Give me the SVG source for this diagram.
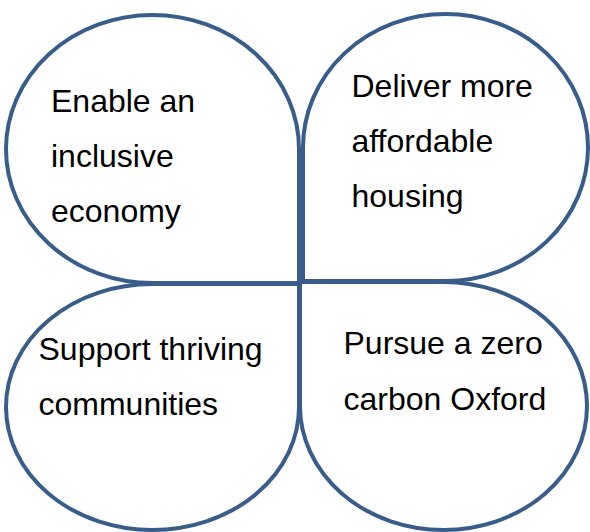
<svg xmlns="http://www.w3.org/2000/svg" width="590" height="532" viewBox="0 0 590 532">
<style>
.leaf{fill:#ffffff;stroke:#385D8A;stroke-width:4;stroke-linejoin:miter}
.t{font-family:"Liberation Sans",Arial,sans-serif;font-size:32px;fill:#000000}
</style>
<rect width="590" height="532" fill="#ffffff"/>
<g id="node-tl">
<path class="leaf" d="M 299 283 L 152.5 283 A 146.5 134 0 0 1 6 149 A 146.5 134 0 0 1 152.5 15 A 146.5 134 0 0 1 299 149 Z"/>
<text class="t" x="51" y="111.5">Enable an</text>
<text class="t" x="51" y="166.5">inclusive</text>
<text class="t" x="51" y="221.5">economy</text>
</g>
<g id="node-tr">
<path class="leaf" d="M 303 281 L 303 147.5 A 142.5 133.5 0 0 1 445.5 14 A 142.5 133.5 0 0 1 588 147.5 A 142.5 133.5 0 0 1 445.5 281 Z"/>
<text class="t" x="351.5" y="96.5">Deliver more</text>
<text class="t" x="351.5" y="151.5">affordable</text>
<text class="t" x="351.5" y="206.5">housing</text>
</g>
<g id="node-bl">
<path class="leaf" d="M 299 284 L 299 407 A 146.5 123 0 0 1 152.5 530 A 146.5 123 0 0 1 6 407 A 146.5 123 0 0 1 152.5 284 Z"/>
<text class="t" x="38.5" y="359.5">Support thriving</text>
<text class="t" x="38.5" y="415">communities</text>
</g>
<g id="node-br">
<path class="leaf" d="M 300 282 L 443.5 282 A 143.5 124 0 0 1 587 406 A 143.5 124 0 0 1 443.5 530 A 143.5 124 0 0 1 300 406 Z"/>
<text class="t" x="343.5" y="354">Pursue a zero</text>
<text class="t" x="343.5" y="409.5">carbon Oxford</text>
</g>
<g id="connectors"></g>
</svg>
